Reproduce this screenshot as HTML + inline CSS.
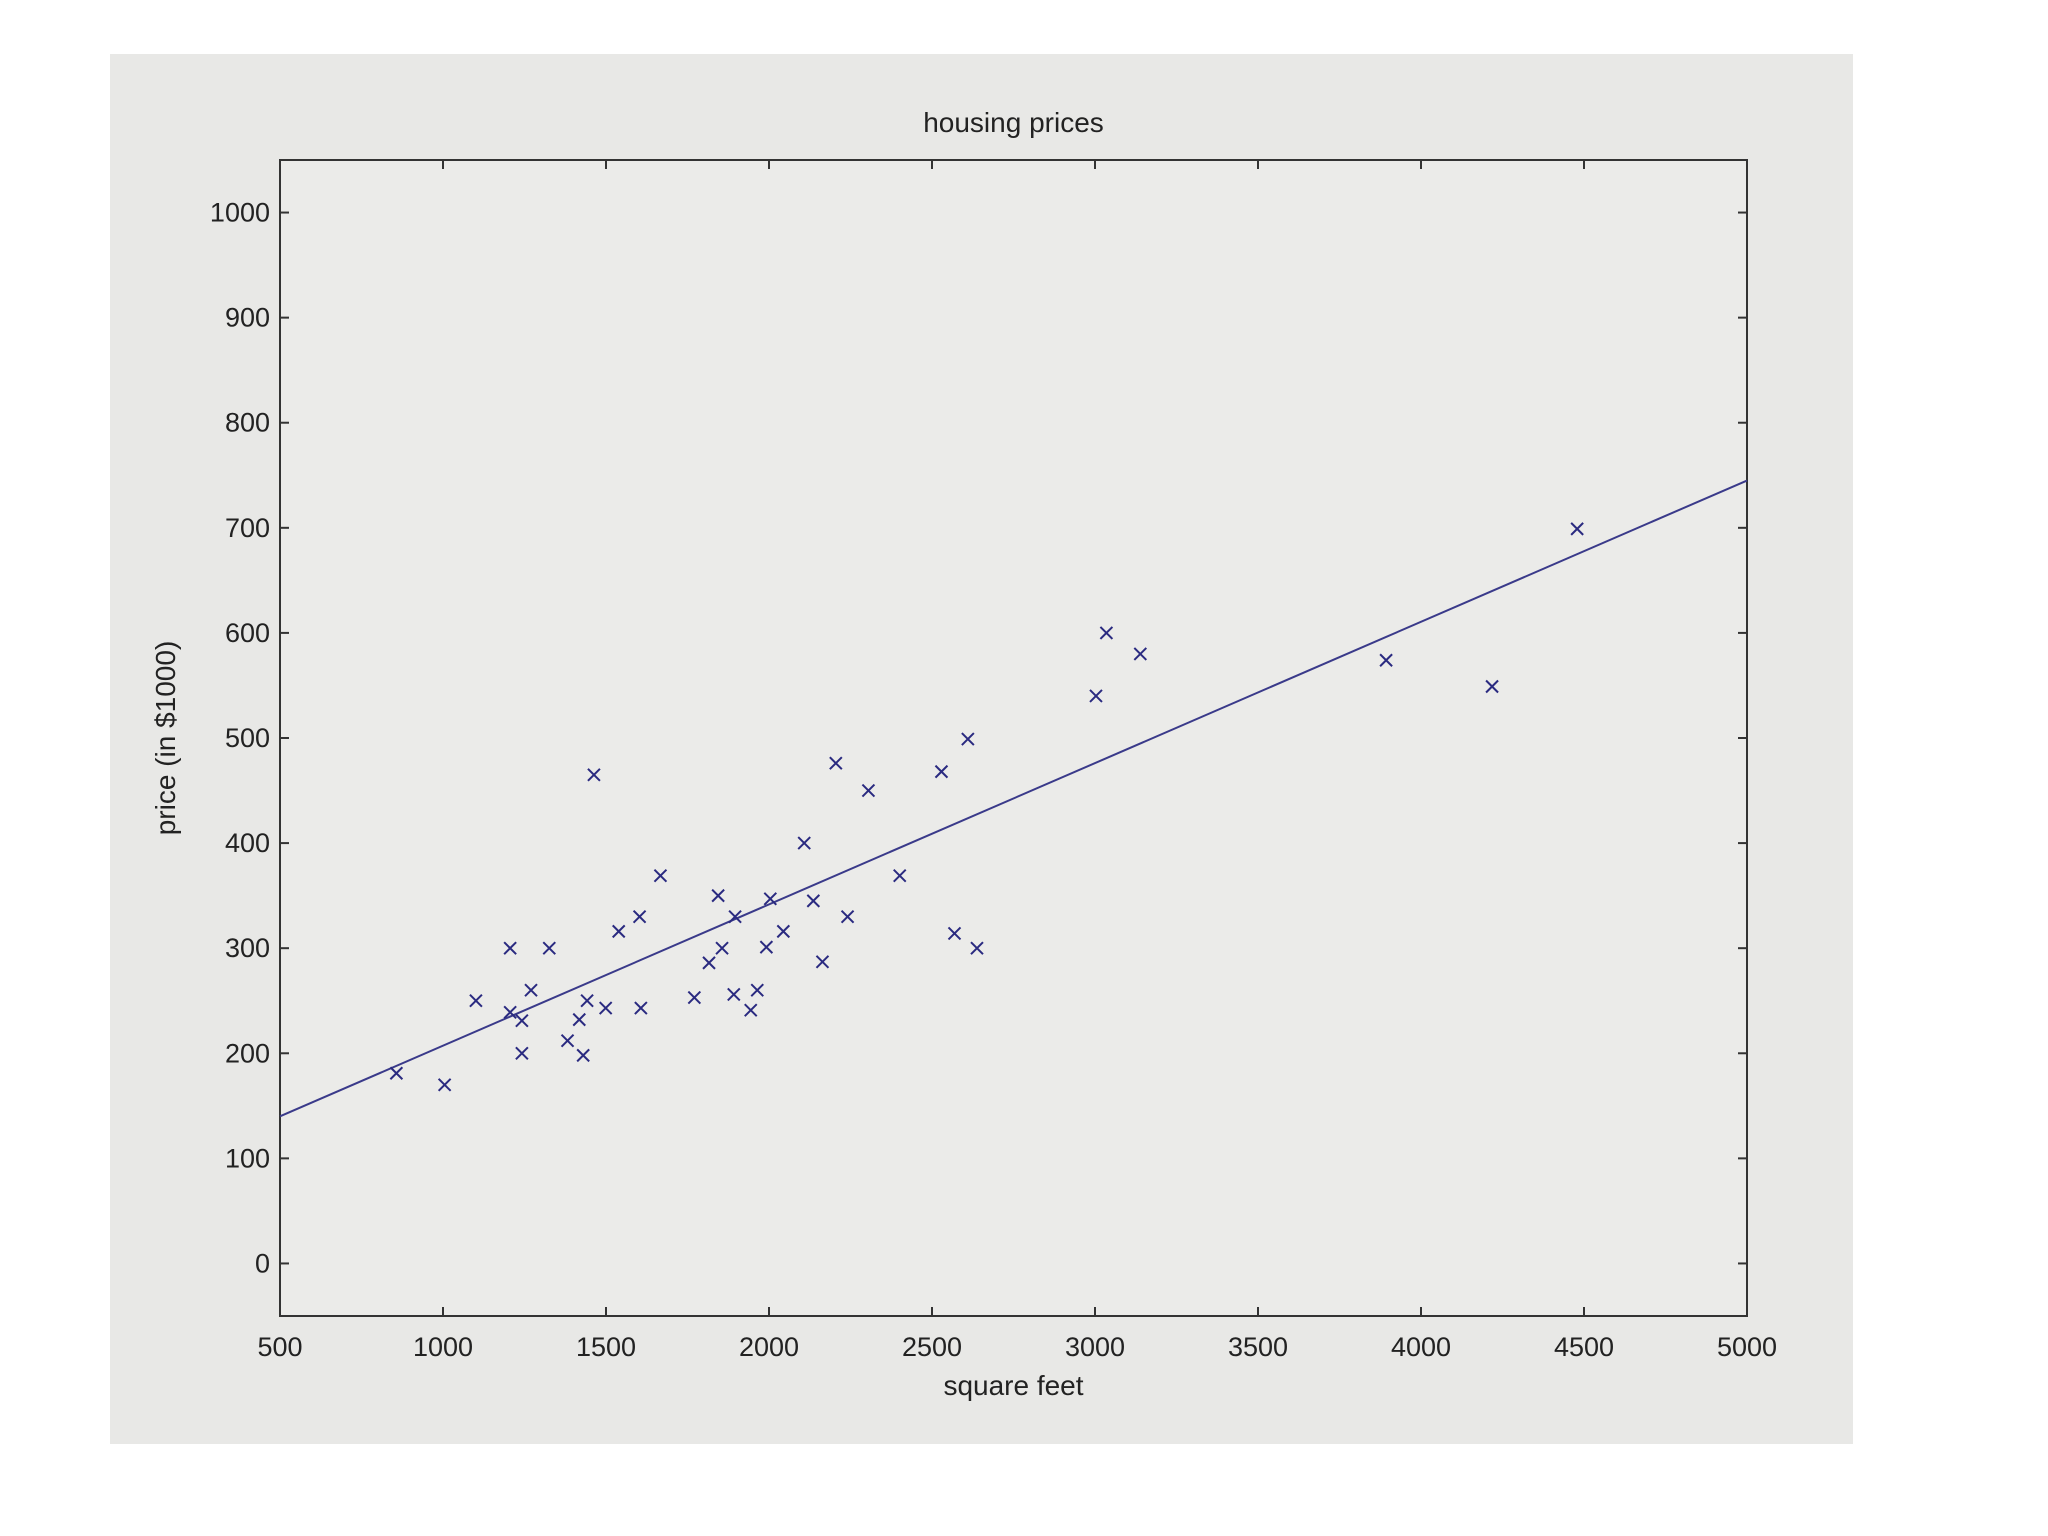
<!DOCTYPE html>
<html><head><meta charset="utf-8"><style>
body{margin:0;background:#fff;width:2048px;height:1536px;overflow:hidden}
svg{display:block}
text{font-family:"Liberation Sans",sans-serif;fill:#222}
</style></head><body>
<svg width="2048" height="1536">
<rect x="110" y="54" width="1743" height="1390" fill="#e8e8e6"/>
<g id="plot"></g>
</svg>
<script>
const xs=[857,1005,1101,1206,1206,1242,1242,1270,1326,1382,1418,1430,1442,1463,1499,1539,1603,1607,1667,1771,1816,1844,1856,1892,1896,1944,1964,1992,2004,2044,2108,2136,2164,2205,2241,2305,2401,2529,2569,2610,2638,3003,3035,3139,3893,4218,4479];
const ys=[181,170,250,300,239,231,200,260,300,212,232,198,250,465,243,316,330,243,369,253,286,350,300,256,330,241,260,301,347,316,400,345,287,476,330,450,369,468,314,499,300,540,600,580,574,549,699];
const xTicks=[500,1000,1500,2000,2500,3000,3500,4000,4500,5000];
const yTicks=[0,100,200,300,400,500,600,700,800,900,1000];
const fitLine=[[500,140],[5000,745]];
const L=280,R=1747,T=160,B=1316,x0=500,x1=5000,y0=-50,y1=1050;
const X=v=>L+(v-x0)/(x1-x0)*(R-L);
const Y=v=>B-(v-y0)/(y1-y0)*(B-T);
const g=document.getElementById('plot');const NS='http://www.w3.org/2000/svg';
function mk(t,a,p){const e=document.createElementNS(NS,t);for(const k in a)e.setAttribute(k,a[k]);(p||g).appendChild(e);return e;}
const box=mk('rect',{x:L,y:T,width:R-L,height:B-T,fill:'#ebebe9',stroke:'#333','stroke-width':2});


xTicks.forEach(v=>{
 const t1=mk('line',{x1:X(v),x2:X(v),y1:B,y2:B-9,stroke:'#333','stroke-width':2});
 
 
 const t2=mk('line',{x1:X(v),x2:X(v),y1:T,y2:T+9,stroke:'#333','stroke-width':2});
 
 
 const tx=mk('text',{x:X(v),y:B+40,'text-anchor':'middle','font-size':27});tx.textContent=v;
 
 
});
yTicks.forEach(v=>{
 const t1=mk('line',{x1:L,x2:L+9,y1:Y(v),y2:Y(v),stroke:'#333','stroke-width':2});
 
 
 const t2=mk('line',{x1:R,x2:R-9,y1:Y(v),y2:Y(v),stroke:'#333','stroke-width':2});
 
 
 const tx=mk('text',{x:L-10,y:Y(v)+9,'text-anchor':'end','font-size':27});tx.textContent=v;
 
 
});
const ln=mk('line',{x1:X(fitLine[0][0]),y1:Y(fitLine[0][1]),x2:X(fitLine[1][0]),y2:Y(fitLine[1][1]),stroke:'#3a3a8a','stroke-width':2});


xs.forEach((v,i)=>{
 const cx=X(v),cy=Y(ys[i]),s=6;
 const p=mk('path',{d:`M${cx-s},${cy-s}L${cx+s},${cy+s}M${cx-s},${cy+s}L${cx+s},${cy-s}`,stroke:'#2a2a80','stroke-width':2,fill:'none'});
 
 
});
const ti=mk('text',{x:(L+R)/2,y:132,'text-anchor':'middle','font-size':28});ti.textContent='housing prices';


const xl=mk('text',{x:(L+R)/2,y:1395,'text-anchor':'middle','font-size':28});xl.textContent='square feet';


const yl=mk('text',{x:0,y:0,'text-anchor':'middle','font-size':28,transform:`translate(175,${(T+B)/2}) rotate(-90)`});yl.textContent='price (in $1000)';


</script>
</body></html>
